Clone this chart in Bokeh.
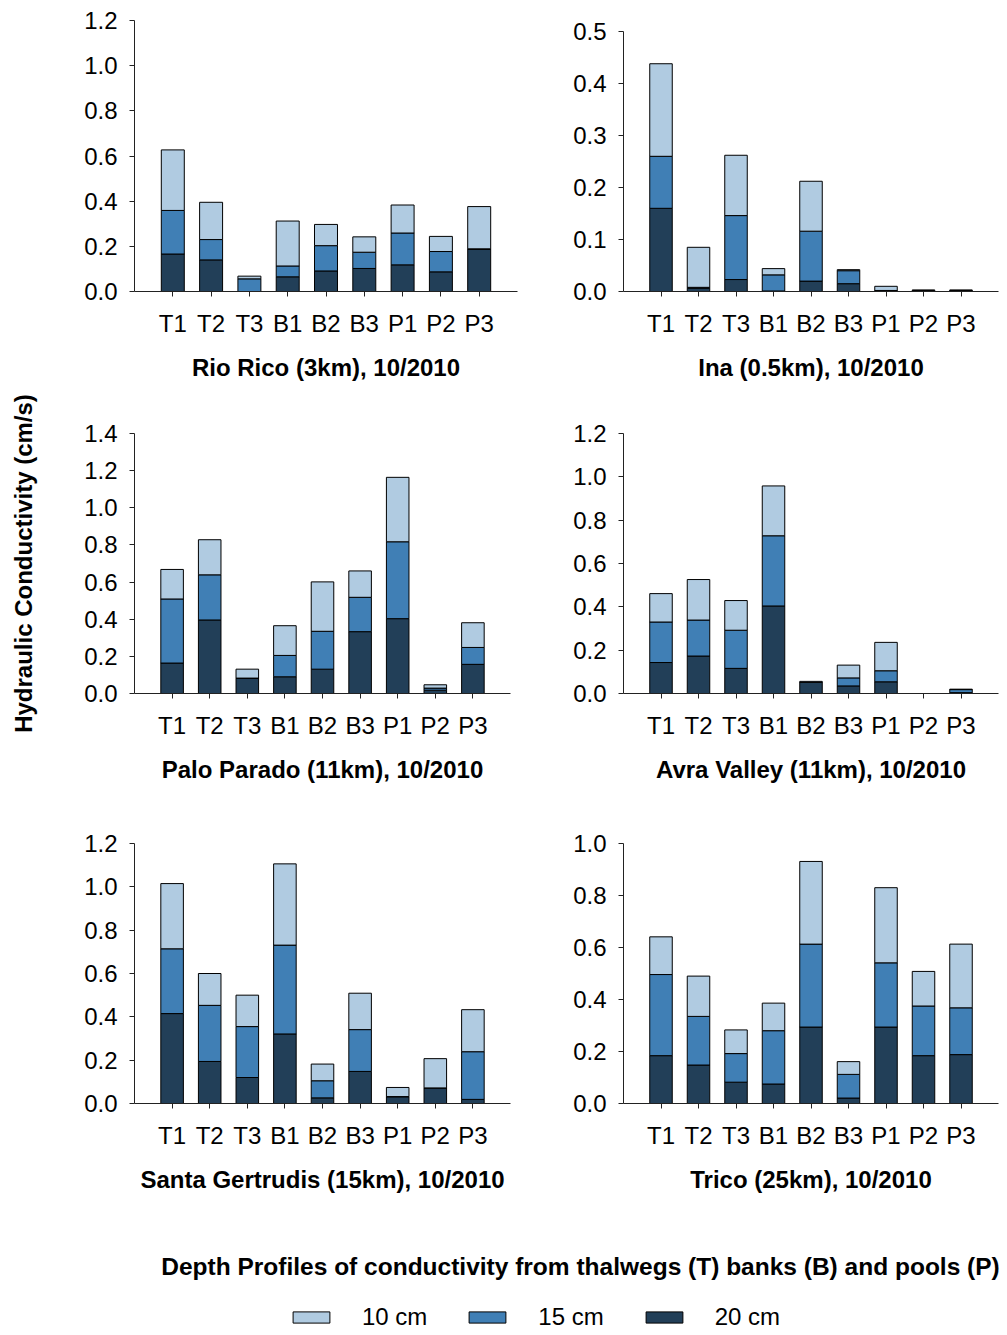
import math
from bokeh.plotting import figure
from bokeh.layouts import row, column
from bokeh.models import (ColumnDataSource, FixedTicker, PrintfTickFormatter, Label,
                          Legend, LegendItem, Range1d)
from bokeh.embed import file_html
from bokeh.resources import INLINE

# ---------------- data ----------------
categories = ["T1", "T2", "T3", "B1", "B2", "B3", "P1", "P2", "P3"]
positions = [1, 2, 3, 4, 5, 6, 7, 8, 9]
depth_labels = ["10 cm", "15 cm", "20 cm"]

# segment heights (cm/s), stacked bottom->top: 20 cm, 15 cm, 10 cm
rio_rico_20 = [0.166, 0.140, 0.000, 0.065, 0.091, 0.102, 0.118, 0.087, 0.186]
rio_rico_15 = [0.193, 0.090, 0.056, 0.048, 0.112, 0.072, 0.141, 0.090, 0.003]
rio_rico_10 = [0.268, 0.165, 0.012, 0.199, 0.094, 0.068, 0.124, 0.067, 0.187]

ina_20 = [0.160, 0.006, 0.023, 0.001, 0.020, 0.015, 0.001, 0.001, 0.001]
ina_15 = [0.100, 0.002, 0.123, 0.031, 0.096, 0.025, 0.001, 0.001, 0.001]
ina_10 = [0.178, 0.077, 0.116, 0.012, 0.096, 0.002, 0.008, 0.001, 0.001]

palo_parado_20 = [0.164, 0.396, 0.083, 0.090, 0.131, 0.333, 0.403, 0.018, 0.157]
palo_parado_15 = [0.345, 0.243, 0.000, 0.115, 0.204, 0.185, 0.414, 0.011, 0.091]
palo_parado_10 = [0.159, 0.189, 0.048, 0.160, 0.266, 0.142, 0.347, 0.018, 0.133]

avra_valley_20 = [0.143, 0.173, 0.116, 0.404, 0.051, 0.035, 0.054, 0.000, 0.004]
avra_valley_15 = [0.187, 0.166, 0.176, 0.324, 0.000, 0.037, 0.051, 0.000, 0.014]
avra_valley_10 = [0.131, 0.187, 0.137, 0.230, 0.005, 0.059, 0.131, 0.000, 0.002]

santa_gertrudis_20 = [0.415, 0.194, 0.120, 0.321, 0.026, 0.148, 0.031, 0.072, 0.019]
santa_gertrudis_15 = [0.299, 0.259, 0.235, 0.410, 0.079, 0.193, 0.001, 0.000, 0.220]
santa_gertrudis_10 = [0.301, 0.147, 0.145, 0.375, 0.077, 0.168, 0.042, 0.135, 0.194]

trico_20 = [0.184, 0.148, 0.082, 0.075, 0.294, 0.021, 0.294, 0.184, 0.188]
trico_15 = [0.312, 0.187, 0.110, 0.205, 0.319, 0.091, 0.247, 0.191, 0.180]
trico_10 = [0.145, 0.155, 0.091, 0.106, 0.318, 0.049, 0.289, 0.133, 0.245]

titles = ["Rio Rico (3km), 10/2010", "Ina (0.5km), 10/2010",
          "Palo Parado (11km), 10/2010", "Avra Valley (11km), 10/2010",
          "Santa Gertrudis (15km), 10/2010", "Trico (25km), 10/2010"]
y_max = [1.2, 0.5, 1.4, 1.2, 1.2, 1.0]
y_step = [0.2, 0.1, 0.2, 0.2, 0.2, 0.2]

y_title = "Hydraulic Conductivity (cm/s)"
caption = "Depth Profiles of conductivity from thalwegs (T) banks (B) and pools (P)"

# ---------------- style ----------------
FONT = "Liberation Sans"
C10 = "#B0CBE1"
C15 = "#407FB5"
C20 = "#223F58"
AXC = "#222222"


def make_panel(title, k20, k15, k10, ymax, ystep, width, height,
               b_left, b_right, b_top, b_bottom, frame_h):
    # extra headroom so that the axis top can sit below the frame top
    top = ymax * frame_h[0] / frame_h[1]
    p = figure(width=width, height=height, output_backend="svg",
               toolbar_location=None, x_range=Range1d(0, 10),
               y_range=Range1d(0, top))
    p.min_border_left = b_left
    p.min_border_right = b_right
    p.min_border_top = b_top
    p.min_border_bottom = b_bottom
    p.outline_line_color = None
    p.xgrid.visible = False
    p.ygrid.visible = False
    p.background_fill_color = "white"
    p.border_fill_color = "white"

    src = ColumnDataSource(dict(x=positions, k20=k20, k15=k15, k10=k10))
    p.vbar_stack(["k20", "k15", "k10"], x="x", width=0.6, source=src,
                 fill_color=[C20, C15, C10], line_color="black", line_width=1)

    n = int(round(ymax / ystep))
    ticks = [round(i * ystep, 3) for i in range(n + 1)]
    p.yaxis.ticker = FixedTicker(ticks=ticks)
    p.yaxis.formatter = PrintfTickFormatter(format="%.1f")
    p.yaxis.bounds = (0, ymax)
    p.xaxis.ticker = FixedTicker(ticks=positions)
    p.xaxis.major_label_overrides = {pos: lab for pos, lab in zip(positions, categories)}

    for ax in (p.xaxis, p.yaxis):
        ax.axis_line_color = AXC
        ax.axis_line_width = 1
        ax.major_tick_line_color = AXC
        ax.major_tick_in = 0
        ax.major_tick_out = 5
        ax.minor_tick_line_color = None
        ax.major_label_text_font = FONT
        ax.major_label_text_font_size = "24px"
        ax.major_label_text_color = "black"
        ax.major_label_standoff = 12

    p.xaxis.major_label_standoff = 13
    p.xaxis.axis_label = title
    p.xaxis.axis_label_text_font = FONT
    p.xaxis.axis_label_text_font_size = "24px"
    p.xaxis.axis_label_text_font_style = "bold"
    p.xaxis.axis_label_text_color = "black"
    p.xaxis.axis_label_standoff = 14
    return p


series = [
    (rio_rico_20, rio_rico_15, rio_rico_10),
    (ina_20, ina_15, ina_10),
    (palo_parado_20, palo_parado_15, palo_parado_10),
    (avra_valley_20, avra_valley_15, avra_valley_10),
    (santa_gertrudis_20, santa_gertrudis_15, santa_gertrudis_10),
    (trico_20, trico_15, trico_10),
]

LW, RW = 520, 435
# (height, b_left, b_right, b_top, b_bottom, (frame_h, axis_h))
cfg = [
    (408, 86, 51, 20, 117, (271, 271)), (408, 55, 5, 20, 117, (271, 260)),
    (400, 86, 58, 25, 115, (260, 260)), (400, 55, 5, 25, 115, (260, 260)),
    (400, 86, 58, 35, 105, (260, 260)), (400, 55, 5, 35, 105, (260, 260)),
]
panels = []
for i in range(6):
    k20, k15, k10 = series[i]
    w = LW if i % 2 == 0 else RW
    h, bl, br, bt, bb, fh = cfg[i]
    panels.append(make_panel(titles[i], k20, k15, k10, y_max[i], y_step[i],
                             w, h, bl, br, bt, bb, fh))

# ---------- y axis title ----------
YH = 1208
ylab = figure(width=48, height=YH, output_backend="svg", toolbar_location=None,
              x_range=Range1d(0, 48), y_range=Range1d(0, YH),
              x_axis_location=None, y_axis_location=None)
ylab.min_border_left = ylab.min_border_right = 0
ylab.min_border_top = ylab.min_border_bottom = 0
ylab.outline_line_color = None
ylab.grid.visible = False
ylab.add_layout(Label(x=23, y=YH - 563, text=y_title, angle=math.pi / 2,
                      text_align="center", text_baseline="middle",
                      text_font=FONT, text_font_size="24px",
                      text_font_style="bold", text_color="black"))

# ---------- caption and legend ----------
BW, BH = 955, 126
bottom = figure(width=BW, height=BH, output_backend="svg", toolbar_location=None,
                x_range=Range1d(0, BW), y_range=Range1d(0, BH),
                x_axis_location=None, y_axis_location=None)
bottom.min_border_left = bottom.min_border_right = 0
bottom.min_border_top = bottom.min_border_bottom = 0
bottom.outline_line_color = None
bottom.grid.visible = False
bottom.add_layout(Label(x=532, y=BH - 58, text=caption,
                        text_align="center", text_baseline="middle",
                        text_font=FONT, text_font_size="24.5px",
                        text_font_style="bold", text_color="black"))

# legend proxies (placed far outside the visible range)
proxy = ColumnDataSource(dict(x=[-5000], top=[-5000], bottom=[-5001]))
r10 = bottom.vbar(x="x", top="top", bottom="bottom", width=1, source=proxy,
                  fill_color=C10, line_color="black")
r15 = bottom.vbar(x="x", top="top", bottom="bottom", width=1, source=proxy,
                  fill_color=C15, line_color="black")
r20 = bottom.vbar(x="x", top="top", bottom="bottom", width=1, source=proxy,
                  fill_color=C20, line_color="black")
legend = Legend(items=[LegendItem(label=depth_labels[0], renderers=[r10]),
                       LegendItem(label=depth_labels[1], renderers=[r15]),
                       LegendItem(label=depth_labels[2], renderers=[r20])],
                orientation="horizontal", location=(240, 3),
                glyph_width=46, glyph_height=14, label_standoff=28, spacing=37,
                padding=0, margin=0, border_line_alpha=0,
                background_fill_alpha=0,
                label_text_font=FONT, label_text_font_size="24px",
                label_text_color="black", label_height=24)
bottom.add_layout(legend)

main = column(row(panels[0], panels[1]), row(panels[2], panels[3]),
              row(panels[4], panels[5]), bottom)
layout = row(ylab, main)

open("out.html", "w").write(file_html(layout, INLINE))
